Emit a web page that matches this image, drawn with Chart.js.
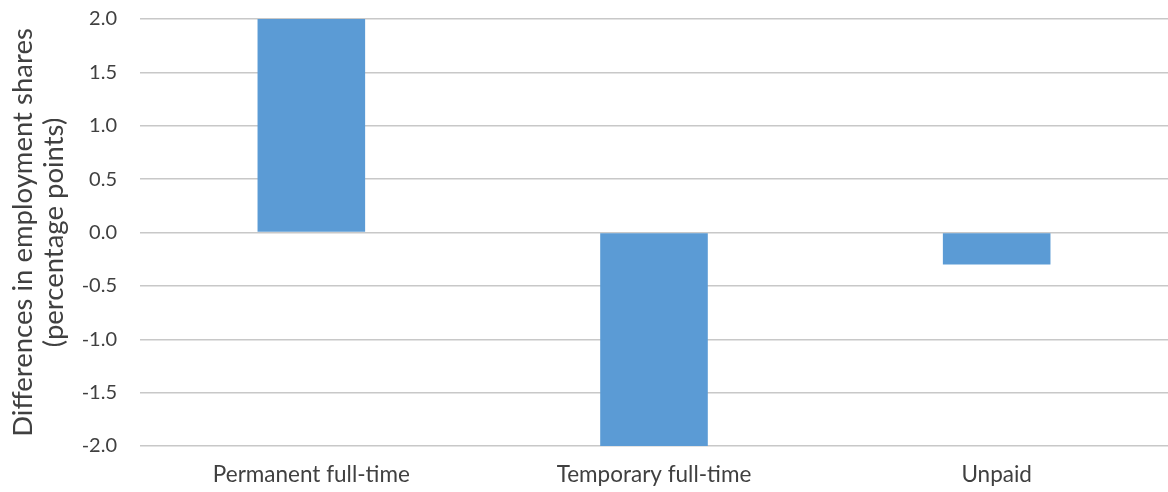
<!DOCTYPE html>
<html>
<head>
<meta charset="utf-8">
<script src="https://cdn.jsdelivr.net/npm/chart.js@4"></script>
<style>
  html, body { margin: 0; padding: 0; background: #fff; }
  #wrap { width: 1168px; height: 492px; }
</style>
</head>
<body>
<div id="wrap"><canvas id="barChart"></canvas></div>
<script>
const categories = ['Permanent full-time', 'Temporary full-time', 'Unpaid'];
const differences = [2.0, -2.0, -0.3];
const yTitle = ['Differences in employment shares', '(percentage points)'];

Chart.defaults.font.family = 'Lato, "Open Sans", sans-serif';
Chart.defaults.color = '#404040';

const ctx = document.getElementById('barChart').getContext('2d');

new Chart(ctx, {
  type: 'bar',
  data: {
    labels: categories,
    datasets: [{
      data: differences,
      backgroundColor: '#5b9bd5',
      borderWidth: 0,
      barPercentage: 0.314,
      categoryPercentage: 1
    }]
  },
  options: {
    responsive: true,
    maintainAspectRatio: false,
    animation: false,
    layout: { padding: { top: 19, right: 0, left: 0, bottom: 0 } },
    plugins: {
      legend: { display: false },
      tooltip: { enabled: false }
    },
    scales: {
      x: {
        grid: { display: false, drawTicks: false },
        border: { display: false },
        ticks: { padding: 15, font: { size: 22.5 }, color: '#404040' },
        afterFit: scale => { scale.height = 46; }
      },
      y: {
        min: -2,
        max: 2,
        ticks: {
          stepSize: 0.5,
          padding: 23,
          font: { size: 20 },
          color: '#404040',
          callback: v => v.toFixed(1)
        },
        grid: { color: '#c8c8c8', lineWidth: 1.5, drawTicks: false },
        border: { display: false },
        title: {
          display: true,
          text: yTitle,
          font: { size: 27.5, lineHeight: 1.15 },
          color: '#404040',
          padding: { top: 7, bottom: 0 }
        },
        afterFit: scale => {
          scale.width = 140;
          scale.paddingTop = 0;
          scale.paddingBottom = 0;
        }
      }
    }
  }
});
</script>
</body>
</html>
